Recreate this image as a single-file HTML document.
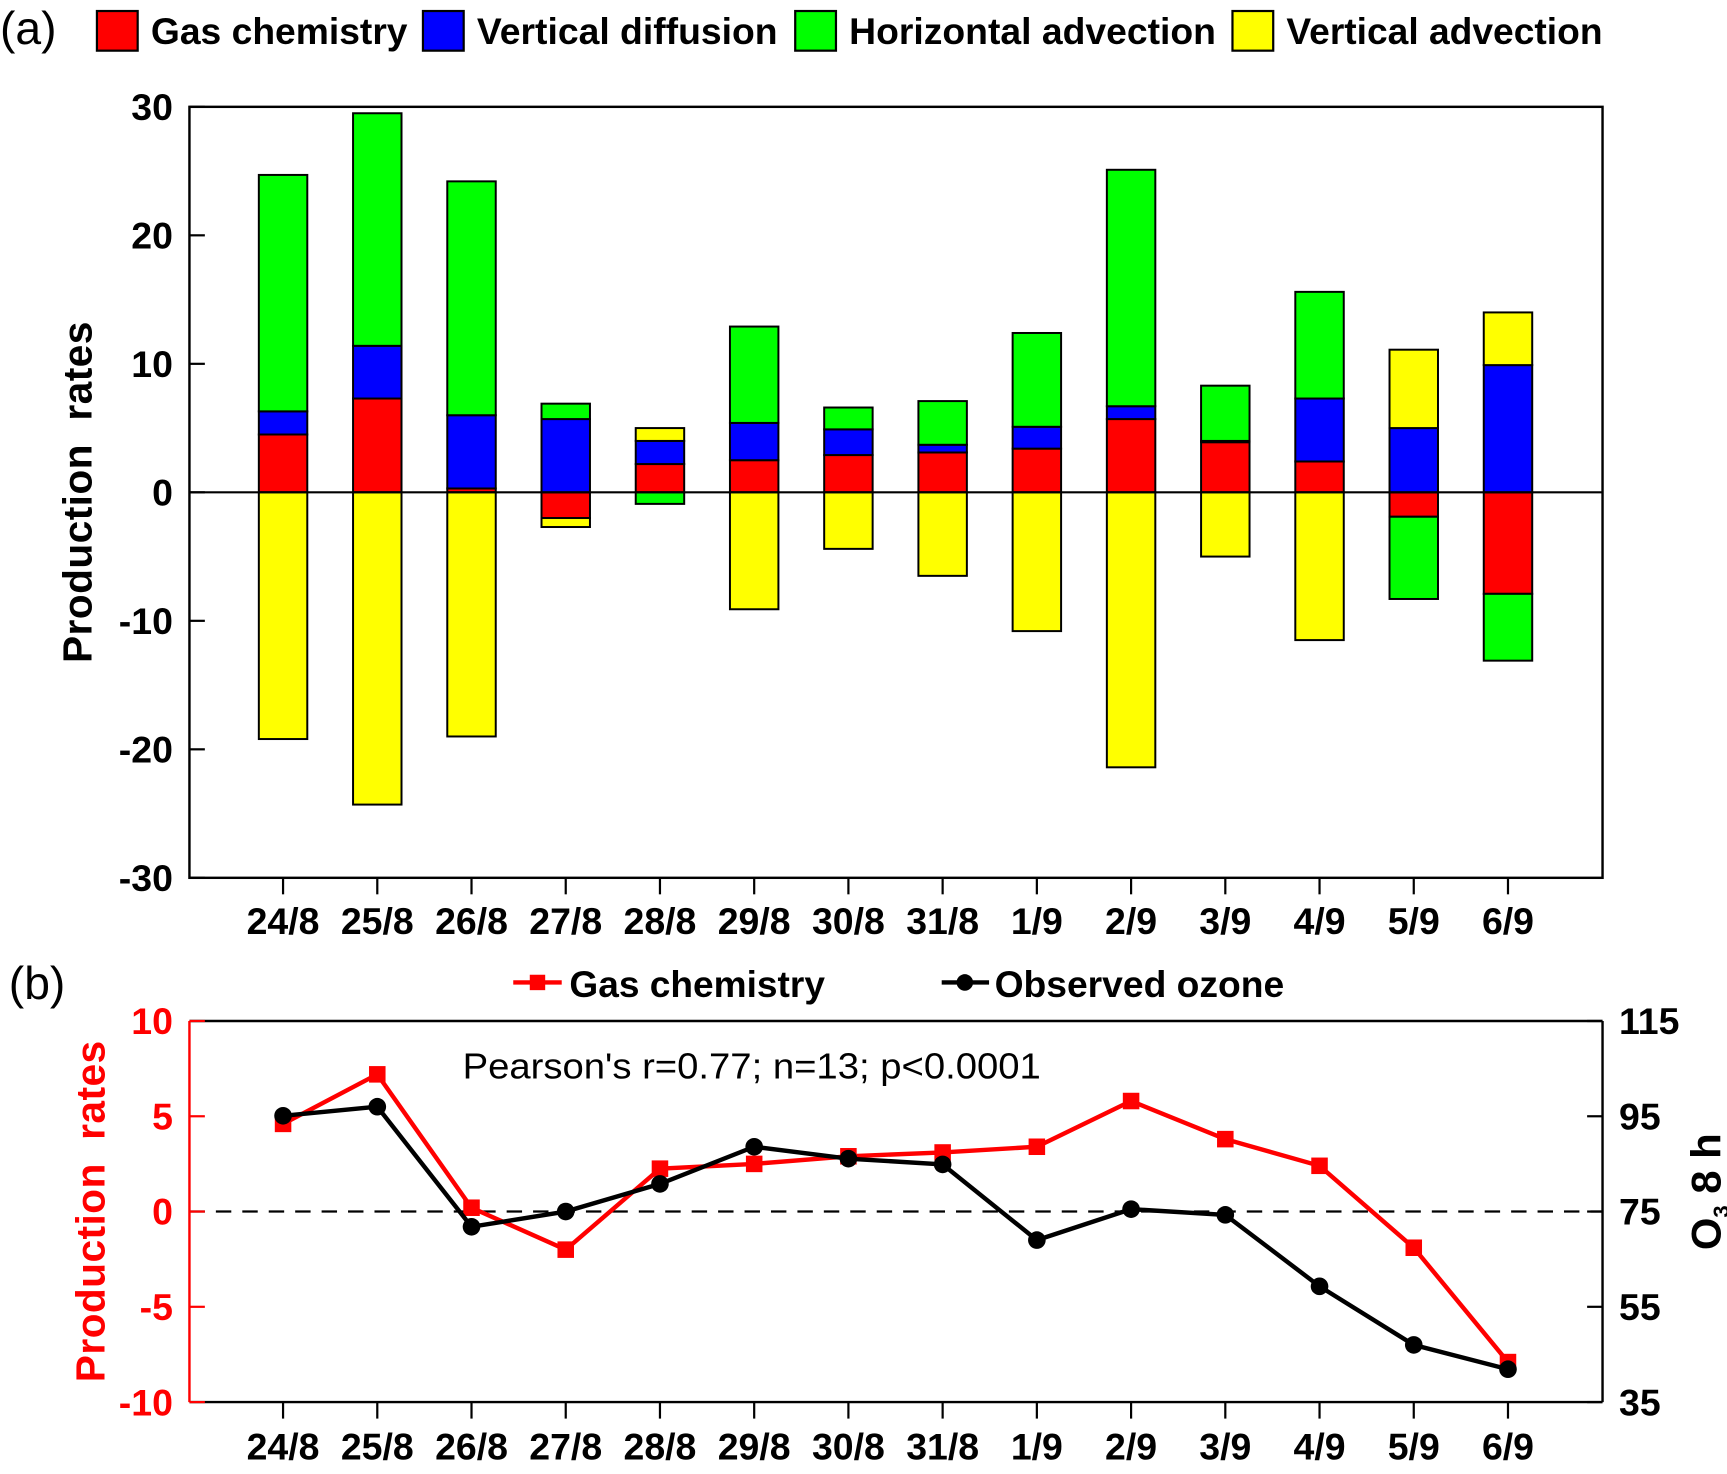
<!DOCTYPE html>
<html><head><meta charset="utf-8"><style>
html,body{margin:0;padding:0;background:#fff;}
svg{display:block;}
text{font-family:"Liberation Sans Narrow","Liberation Sans",sans-serif;}
.b{font-weight:bold;}
</style></head><body>
<svg id="chart" width="1727" height="1474" viewBox="0 0 1568 1338.3" preserveAspectRatio="none" xmlns="http://www.w3.org/2000/svg">
<g id="pa"></g>
<g id="pb"></g>
</svg>
<script>
const categories=["24/8","25/8","26/8","27/8","28/8","29/8","30/8","31/8","1/9","2/9","3/9","4/9","5/9","6/9"];
const gasChem=[4.5,7.3,0.3,-2.0,2.2,2.5,2.9,3.1,3.4,5.7,3.9,2.4,-1.9,-7.9];
const vertDiff=[1.8,4.1,5.7,5.7,1.8,2.9,2.0,0.6,1.7,1.0,0.1,4.9,5.0,9.9];
const horizAdv=[18.4,18.1,18.2,1.2,-0.9,7.5,1.7,3.4,7.3,18.4,4.3,8.3,-6.4,-5.2];
const vertAdv=[-19.2,-24.3,-19.0,-0.7,1.0,-9.1,-4.4,-6.5,-10.8,-21.4,-5.0,-11.5,6.1,4.1];
const ticksA=[30,20,10,0,-10,-20,-30];
const gasLine=[4.6,7.2,0.2,-2.0,2.25,2.5,2.9,3.1,3.4,5.8,3.8,2.4,-1.9,-7.9];
const ozone=[95.1,97,71.8,75,80.8,88.6,86.1,84.9,69,75.5,74.3,59.3,47,41.9];
const ticksBL=[10,5,0,-5,-10];
const ticksBR=[115,95,75,55,35];

const NS="http://www.w3.org/2000/svg";
function mk(parent,tag,attrs,txt){const e=document.createElementNS(NS,tag);for(const k in attrs)e.setAttribute(k,attrs[k]);if(txt!==undefined)e.textContent=txt;parent.appendChild(e);return e;}
const L=172,R=1455,FS=34;
const xPos=i=>257+i*85.55;
const pa=document.getElementById('pa'), pb=document.getElementById('pb');

// Panel A
const yA=v=>447-v*11.667;
const legA=[["Gas chemistry","#ff0000",88,233],["Vertical diffusion","#0000ff",384,273],["Horizontal advection","#00ff00",722,333],["Vertical advection","#ffff00",1119,287]];
let t=mk(pa,'text',{x:0,y:40,'font-size':42});t.textContent="(a)";


legA.forEach(l=>{
  const r=mk(pa,'rect',{x:l[2],y:10,width:37,height:36,fill:l[1],stroke:'#000','stroke-width':2});
  
  
  const tx=mk(pa,'text',{x:l[2]+49,y:40,'font-size':FS,class:'b',textLength:l[3],lengthAdjust:'spacingAndGlyphs'},l[0]);
  
  
});
const series=[gasChem,vertDiff,horizAdv,vertAdv];
const cols=["#ff0000","#0000ff","#00ff00","#ffff00"];
categories.forEach((c,i)=>{
  let pos=0,neg=0;
  series.forEach((s,k)=>{
    const v=s[i];
    let a,b;
    if(v>=0){a=pos;b=pos+v;pos=b;}else{a=neg;b=neg+v;neg=b;}
    const y1=yA(Math.max(a,b)),y2=yA(Math.min(a,b));
    const r=mk(pa,'rect',{x:xPos(i)-22,y:y1,width:44,height:Math.max(0,y2-y1),fill:cols[k],stroke:'#000','stroke-width':1.8});
    
    
  });
});
let ax=mk(pa,'rect',{x:L,y:97,width:R-L,height:700,fill:'none',stroke:'#000','stroke-width':2.2});


let zl=mk(pa,'line',{x1:L,x2:R,y1:yA(0),y2:yA(0),stroke:'#000','stroke-width':2});


ticksA.forEach(v=>{
  mk(pa,'line',{x1:L,x2:L+14,y1:yA(v),y2:yA(v),stroke:'#000','stroke-width':2});
  const tx=mk(pa,'text',{x:157,y:yA(v)+12,'font-size':FS,class:'b','text-anchor':'end'},v);
  
  
});
categories.forEach((c,i)=>{
  mk(pa,'line',{x1:xPos(i),x2:xPos(i),y1:797,y2:812,stroke:'#000','stroke-width':2});
  const tx=mk(pa,'text',{x:xPos(i),y:848,'font-size':FS,class:'b','text-anchor':'middle'},c);
  
  
});
t=mk(pa,'text',{x:0,y:0,'font-size':37,class:'b','text-anchor':'middle',transform:'translate(83,447) rotate(-90)',textLength:310,lengthAdjust:'spacing'},"Production\u00a0\u00a0rates");



// Panel B
const yL=v=>1100-v*17.3;
const yR=v=>1100-(v-75)*4.325;
t=mk(pb,'text',{x:8,y:907,'font-size':42},"(b)");


mk(pb,'line',{x1:466,x2:510,y1:892,y2:892,stroke:'#ff0000','stroke-width':4});
mk(pb,'rect',{x:481,y:885,width:14,height:14,fill:'#ff0000'});
t=mk(pb,'text',{x:517,y:905,'font-size':FS,class:'b',textLength:232,lengthAdjust:'spacingAndGlyphs'},"Gas chemistry");


mk(pb,'line',{x1:855,x2:898,y1:892,y2:892,stroke:'#000','stroke-width':4});
mk(pb,'circle',{cx:876,cy:892,r:7.5,fill:'#000'});
t=mk(pb,'text',{x:903,y:905,'font-size':FS,class:'b',textLength:263,lengthAdjust:'spacingAndGlyphs'},"Observed ozone");


t=mk(pb,'text',{x:420,y:979,'font-size':33,textLength:525,lengthAdjust:'spacingAndGlyphs'},"Pearson's r=0.77; n=13; p<0.0001");


let dl=mk(pb,'line',{x1:L,x2:R,y1:1100,y2:1100,stroke:'#000','stroke-width':2,'stroke-dasharray':'14,10'});


mk(pb,'line',{x1:L,x2:R,y1:927,y2:927,stroke:'#000','stroke-width':2.2});
mk(pb,'line',{x1:L,x2:R,y1:1273,y2:1273,stroke:'#000','stroke-width':2.2});
mk(pb,'line',{x1:R,x2:R,y1:927,y2:1273,stroke:'#000','stroke-width':2.2});
mk(pb,'line',{x1:L,x2:L,y1:927,y2:1273,stroke:'#ff0000','stroke-width':2.2});
ticksBL.forEach(v=>{
  mk(pb,'line',{x1:L,x2:L+14,y1:yL(v),y2:yL(v),stroke:'#ff0000','stroke-width':2});
  const tx=mk(pb,'text',{x:157,y:yL(v)+12,'font-size':FS,class:'b','text-anchor':'end',fill:'#ff0000'},v);
  
  
});
ticksBR.forEach(v=>{
  mk(pb,'line',{x1:R-14,x2:R,y1:yR(v),y2:yR(v),stroke:'#000','stroke-width':2});
  const tx=mk(pb,'text',{x:1470,y:yR(v)+12,'font-size':FS,class:'b'},v);
  
  
});
categories.forEach((c,i)=>{
  mk(pb,'line',{x1:xPos(i),x2:xPos(i),y1:1273,y2:1288,stroke:'#000','stroke-width':2});
  const tx=mk(pb,'text',{x:xPos(i),y:1325,'font-size':FS,class:'b','text-anchor':'middle'},c);
  
  
});
let rp=mk(pb,'polyline',{points:gasLine.map((v,i)=>xPos(i)+','+yL(v)).join(' '),fill:'none',stroke:'#ff0000','stroke-width':4});


gasLine.forEach((v,i)=>{
  const r=mk(pb,'rect',{x:xPos(i)-7.5,y:yL(v)-7.5,width:15,height:15,fill:'#ff0000'});
  
  
});
let bp=mk(pb,'polyline',{points:ozone.map((v,i)=>xPos(i)+','+yR(v)).join(' '),fill:'none',stroke:'#000','stroke-width':4});


ozone.forEach((v,i)=>{
  const c=mk(pb,'circle',{cx:xPos(i),cy:yR(v),r:8,fill:'#000'});
  
  
});
t=mk(pb,'text',{x:0,y:0,'font-size':37,class:'b','text-anchor':'middle',fill:'#ff0000',transform:'translate(95,1100) rotate(-90)',textLength:310,lengthAdjust:'spacing'},"Production\u00a0\u00a0rates");


t=mk(pb,'text',{x:0,y:0,'font-size':38,class:'b','text-anchor':'middle',transform:'translate(1562,1082) rotate(-90)'});


mk(t,'tspan',{},"O");
mk(t,'tspan',{'font-size':20,dy:8},"3");
mk(t,'tspan',{dy:-8},"\u00a08\u00a0h");
</script>
</body></html>
